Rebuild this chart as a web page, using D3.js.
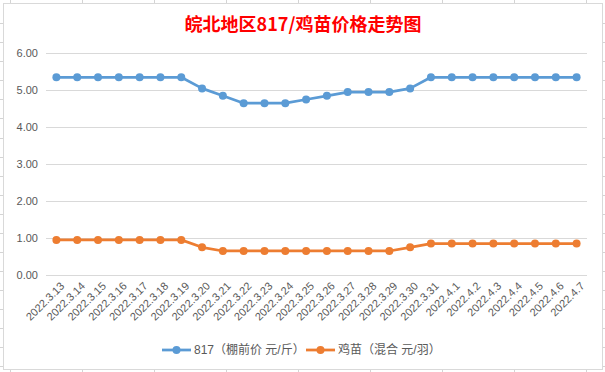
<!DOCTYPE html>
<html lang="zh">
<head>
<meta charset="UTF-8">
<title>皖北地区817/鸡苗价格走势图</title>
<script src="https://cdn.jsdelivr.net/npm/d3@7"></script>
<style>
  html, body { margin: 0; padding: 0; background: #fff; }
  text { font-family: "Liberation Sans", Arial, "Noto Sans CJK SC", sans-serif; }
</style>
</head>
<body>
<svg class="chart"></svg>
<script>
    // 数据
    const dates = ["2022.3.13", "2022.3.14", "2022.3.15", "2022.3.16", "2022.3.17", "2022.3.18", "2022.3.19",
        "2022.3.20", "2022.3.21", "2022.3.22", "2022.3.23", "2022.3.24", "2022.3.25", "2022.3.26",
        "2022.3.27", "2022.3.28", "2022.3.29", "2022.3.30", "2022.3.31", "2022.4.1", "2022.4.2",
        "2022.4.3", "2022.4.4", "2022.4.5", "2022.4.6", "2022.4.7"];
    const price817 = [5.35, 5.35, 5.35, 5.35, 5.35, 5.35, 5.35, 5.05, 4.85, 4.65, 4.65, 4.65, 4.75,
        4.85, 4.95, 4.95, 4.95, 5.05, 5.35, 5.35, 5.35, 5.35, 5.35, 5.35, 5.35, 5.35];
    const priceChick = [0.95, 0.95, 0.95, 0.95, 0.95, 0.95, 0.95, 0.75, 0.65, 0.65, 0.65, 0.65, 0.65,
        0.65, 0.65, 0.65, 0.65, 0.75, 0.85, 0.85, 0.85, 0.85, 0.85, 0.85, 0.85, 0.85];
    const yTicks = [0, 1, 2, 3, 4, 5, 6];
    const seriesNames = ["817（棚前价 元/斤）", "鸡苗（混合 元/羽）"];
    const seriesColors = ["#5B9BD5", "#ED7D31"];

    /**
     * 基本配置
     */
    const svgWidth = 605;
    const svgHeight = 372;
    const plot = { left: 46, right: 587, top: 53.3, bottom: 275 };

    const svg = d3.select(".chart")
        .attr("width", svgWidth)
        .attr("height", svgHeight);

    // 表格背景网格线（图表框外露出的部分）
    const sheet = svg.append("g").attr("stroke", "#D4D4D4").attr("stroke-width", 1);
    d3.range(10, svgWidth, 72).forEach(x => {
        sheet.append("line").attr("x1", x + 0.5).attr("x2", x + 0.5).attr("y1", 0).attr("y2", svgHeight);
    });
    d3.range(23.2, svgHeight, 19.05).forEach(y => {
        const yy = Math.round(y) + 0.5;
        sheet.append("line").attr("x1", 0).attr("x2", svgWidth).attr("y1", yy).attr("y2", yy);
    });

    // 图表框
    svg.append("rect")
        .attr("x", 3.5).attr("y", 3.5)
        .attr("width", 599).attr("height", 366)
        .attr("fill", "#fff")
        .attr("stroke", "#D9D9D9");

    // 标题
    svg.append("text")
        .attr("x", 303).attr("y", 31)
        .attr("text-anchor", "middle")
        .attr("fill", "#FF0000")
        .attr("font-size", 18)
        .attr("font-weight", "bold")
        .style("font-family", "'Noto Sans CJK SC', sans-serif")
        .text("皖北地区817/鸡苗价格走势图");

    /**
     * 比例尺
     */
    const x = d3.scaleBand().domain(dates).range([plot.left, plot.right]);
    const y = d3.scaleLinear().domain([0, 6]).range([plot.bottom, plot.top]);

    // 横向网格线
    svg.append("g")
        .selectAll("line")
        .data(yTicks)
        .join("line")
        .attr("x1", plot.left).attr("x2", plot.right)
        .attr("y1", d => Math.round(y(d)) + 0.5)
        .attr("y2", d => Math.round(y(d)) + 0.5)
        .attr("stroke", "#D9D9D9");

    // y轴刻度文字
    svg.append("g")
        .selectAll("text")
        .data(yTicks)
        .join("text")
        .attr("x", 38)
        .attr("y", d => y(d))
        .attr("dy", "0.35em")
        .attr("text-anchor", "end")
        .attr("font-size", 11)
        .attr("fill", "#595959")
        .text(d => d3.format(".2f")(d));

    // x轴刻度文字（旋转-45度）
    svg.append("g")
        .selectAll("text")
        .data(dates)
        .join("text")
        .attr("transform", d => `translate(${x(d) + x.bandwidth() / 2 + 6}, ${plot.bottom + 9}) rotate(-45)`)
        .attr("text-anchor", "end")
        .attr("dy", "0.35em")
        .attr("font-size", 11)
        .attr("fill", "#595959")
        .text(d => d);

    /**
     * 折线与标记点
     */
    const line = d3.line()
        .x((d, i) => x(dates[i]) + x.bandwidth() / 2)
        .y(d => y(d));

    [price817, priceChick].forEach((values, k) => {
        const g = svg.append("g");
        g.append("path")
            .datum(values)
            .attr("d", line)
            .attr("fill", "none")
            .attr("stroke", seriesColors[k])
            .attr("stroke-width", 2.75)
            .attr("stroke-linejoin", "round");
        g.selectAll("circle")
            .data(values)
            .join("circle")
            .attr("cx", (d, i) => x(dates[i]) + x.bandwidth() / 2)
            .attr("cy", d => y(d))
            .attr("r", 4)
            .attr("fill", seriesColors[k]);
    });

    /**
     * 图例
     */
    const legendX = [162, 306];
    const legend = svg.append("g");
    seriesNames.forEach((name, k) => {
        const lx = legendX[k];
        const ly = 350;
        legend.append("line")
            .attr("x1", lx).attr("x2", lx + 29)
            .attr("y1", ly).attr("y2", ly)
            .attr("stroke", seriesColors[k])
            .attr("stroke-width", 2.75);
        legend.append("circle")
            .attr("cx", lx + 14.5).attr("cy", ly)
            .attr("r", 4)
            .attr("fill", seriesColors[k]);
        legend.append("text")
            .attr("x", lx + 32).attr("y", ly)
            .attr("dy", "0.35em")
            .attr("font-size", 12)
            .attr("fill", "#595959")
            .text(name);
    });
</script>
</body>
</html>
